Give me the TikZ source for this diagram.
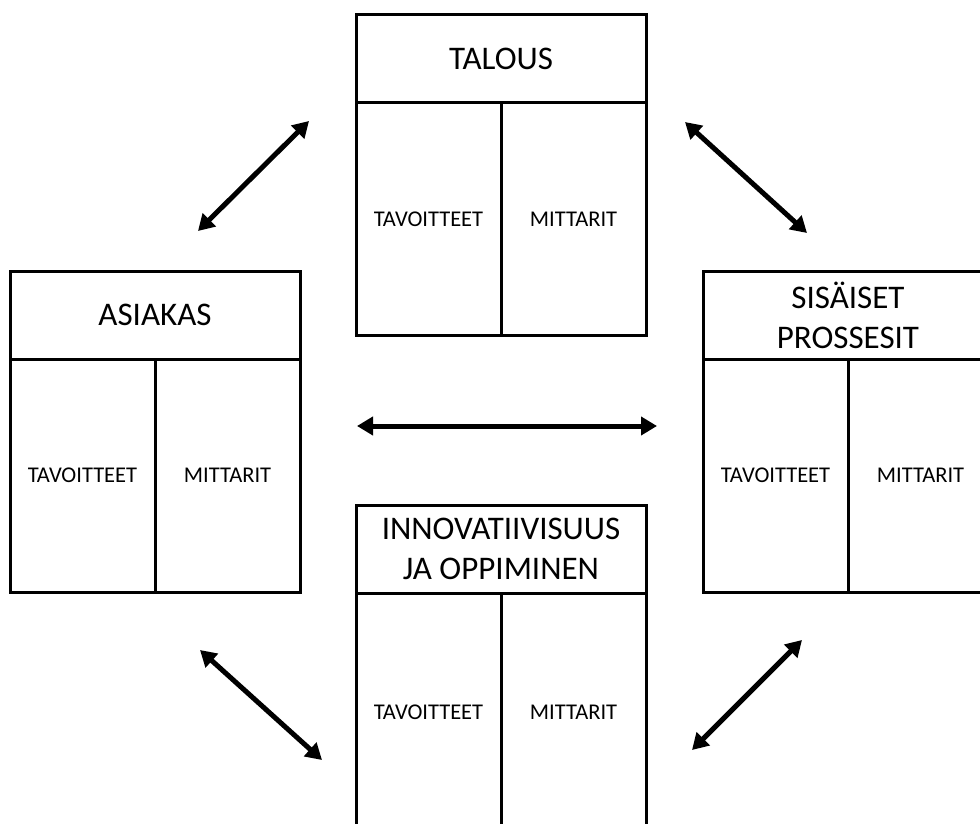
\documentclass[tikz,border=0pt]{standalone}
\usepackage{fontspec}
\setmainfont{Carlito}
\usetikzlibrary{arrows.meta}
\tikzset{
  frame/.style={draw=black, line width=3pt},
  title/.style={font=\fontsize{33}{40}\selectfont, align=center, inner sep=0pt},
  cell/.style={font=\fontsize{22.5}{27}\selectfont, inner sep=0pt},
  biarrow/.style={line width=5pt, {Triangle[length=16pt,width=18pt]}-{Triangle[length=16pt,width=18pt]}}
}
\newcommand{\bscbox}[6]{%
  % #1 name, #2 left, #3 top, #4 header bottom, #5 bottom, #6 title
  \draw[frame] (#2,#3) rectangle (#2+290,#5);
  \draw[frame] (#2,#4) -- (#2+290,#4);
  \draw[frame] (#2+145,#4) -- (#2+145,#5);
  \node[title] (#1-t) at (#2+145,{(#3+#4)/2}) {#6};
  \node[cell] (#1-a) at (#2+72.5,{(#4+#5)/2}) {TAVOITTEET};
  \node[cell] (#1-b) at (#2+217.5,{(#4+#5)/2}) {MITTARIT};
}
\begin{document}
\begin{tikzpicture}[x=1pt,y=-1pt]
\useasboundingbox (0,0) rectangle (980,824);
\clip (0,0) rectangle (980,824);
\fill[white] (0,0) rectangle (980,824);
\bscbox{talous}{356}{15}{103}{335}{TALOUS}
\bscbox{asiakas}{10}{271}{359}{592}{ASIAKAS}
\bscbox{sis}{703}{271}{359}{592}{SISÄISET\\PROSSESIT}
\bscbox{inno}{356}{505}{593}{831}{INNOVATIIVISUUS\\JA OPPIMINEN}
\coordinate (tl1) at (198,231);
\coordinate (tl2) at (309,121);
\coordinate (tr1) at (685,122);
\coordinate (tr2) at (807,233);
\coordinate (h1) at (357,426);
\coordinate (h2) at (657,426);
\coordinate (bl1) at (200,650);
\coordinate (bl2) at (322,760);
\coordinate (br1) at (802,640);
\coordinate (br2) at (692,750);
\draw[biarrow] (tl1) -- (tl2);
\draw[biarrow] (tr1) -- (tr2);
\draw[biarrow] (h1) -- (h2);
\draw[biarrow] (bl1) -- (bl2);
\draw[biarrow] (br1) -- (br2);
\end{tikzpicture}
\end{document}
